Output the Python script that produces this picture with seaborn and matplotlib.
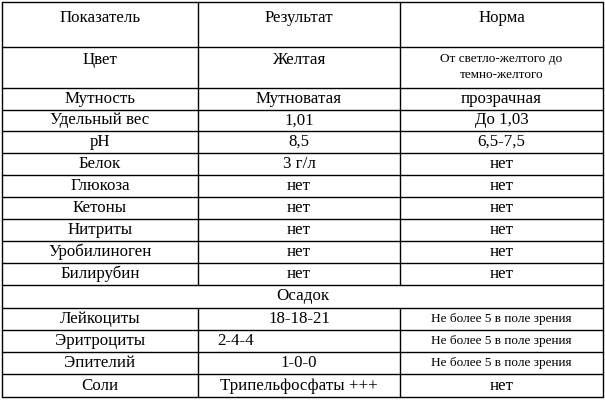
import matplotlib
matplotlib.use("Agg")
import matplotlib.pyplot as plt
import seaborn as sns

sns.set_style("white")
plt.rcParams['font.family'] = ['Liberation Serif', 'DejaVu Serif']

indicators = ["Показатель", "Цвет", "Мутность", "Удельный вес", "pH", "Белок", "Глюкоза",
              "Кетоны", "Нитриты", "Уробилиноген", "Билирубин", "Осадок",
              "Лейкоциты", "Эритроциты", "Эпителий", "Соли"]
results = ["Результат", "Желтая", "Мутноватая", "1,01", "8,5", "3 г/л", "нет",
           "нет", "нет", "нет", "нет", "",
           "18-18-21", "2-4-4", "1-0-0", "Трипельфосфаты +++"]
norms = ["Норма", "От светло-желтого до\nтемно-желтого", "прозрачная", "До 1,03", "6,5-7,5",
         "нет", "нет", "нет", "нет", "нет", "нет", "",
         "Не более 5 в поле зрения", "Не более 5 в поле зрения", "Не более 5 в поле зрения", "нет"]

row_edges = [2, 47, 88, 110, 131, 153, 175, 197, 219, 241, 263, 285, 308, 330, 352, 374, 397]
col_edges = [2, 198, 400, 603]

fig = plt.figure(figsize=(6.05, 4.0), dpi=100)
ax = fig.add_axes([0, 0, 1, 1])
ax.set_xlim(0, 605)
ax.set_ylim(400, 0)
ax.axis("off")

lw = 1.0
for i, y in enumerate(row_edges):
    ax.plot([col_edges[0], col_edges[-1]], [y, y], color="black", lw=lw)
for x in col_edges:
    if x in (col_edges[0], col_edges[-1]):
        ax.plot([x, x], [row_edges[0], row_edges[-1]], color="black", lw=lw)
    else:
        ax.plot([x, x], [row_edges[0], row_edges[11]], color="black", lw=lw)
        ax.plot([x, x], [row_edges[12], row_edges[-1]], color="black", lw=lw)

fs = 12.2
tc = "black"
for i in range(len(indicators)):
    top, bot = row_edges[i], row_edges[i + 1]
    if i == 0:
        yc = 18
    elif i == 1:
        yc = 60
    else:
        yc = (top + bot) / 2
    cx = [(col_edges[j] + col_edges[j + 1]) / 2 for j in range(3)]
    if i == 11:
        ax.text((col_edges[0] + col_edges[-1]) / 2, yc, indicators[i], ha="center", va="center", fontsize=fs, color=tc)
        continue
    ax.text(cx[0], yc, indicators[i], ha="center", va="center", fontsize=fs, color=tc)
    if results[i] == "2-4-4":
        ax.text(col_edges[1] + 19, yc, results[i], ha="left", va="center", fontsize=fs, color=tc)
    else:
        ax.text(cx[1], yc, results[i], ha="center", va="center", fontsize=fs, color=tc)
    nfs = 9.5 if (i == 1 or norms[i].startswith("Не более")) else fs
    if i == 1:
        ax.text(cx[2], 67, norms[i], ha="center", va="center", fontsize=nfs, linespacing=1.5, color=tc)
    else:
        ax.text(cx[2], yc, norms[i], ha="center", va="center", fontsize=nfs, color=tc)

fig.savefig("out.png", dpi=100)
